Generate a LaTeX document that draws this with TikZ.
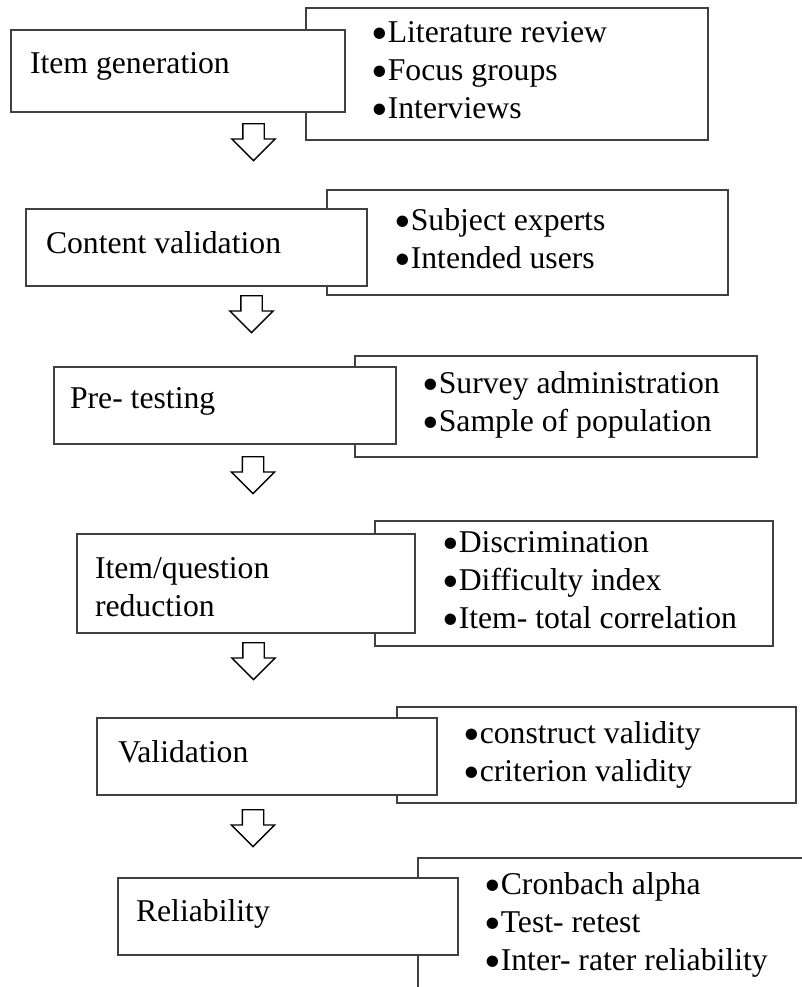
\documentclass[tikz,border=0pt]{standalone}
\usepackage{fontspec}
\setmainfont{Liberation Serif}
\usetikzlibrary{shapes.arrows}

\newcommand\stagefont{\fontsize{31.7bp}{38bp}\selectfont}
\newcommand\bul{\makebox[16.8bp][l]{\raisebox{-7bp}{\scalebox{1.5}{•}}}}
\newcommand\lines[1]{\begin{tabular}[t]{@{}l@{}}#1\end{tabular}}

\tikzset{
  framebox/.style={draw=black!75, line width=1.3bp, fill=white,
    anchor=north west, inner sep=0pt, outer sep=0pt},
  caption/.style={anchor=base west, inner sep=0pt, outer sep=0pt, font=\stagefont},
  downarrow/.style={single arrow, draw=black, line width=1.4bp, fill=white,
    rotate=-90, anchor=tail, inner xsep=0pt, inner ysep=10bp,
    minimum height=37bp,
    single arrow head extend=11bp, single arrow tip angle=90},
}

\begin{document}
\begin{tikzpicture}[x=1bp, y=-1bp]
  \useasboundingbox (0,0) rectangle (802,987);
  \clip (0,0) rectangle (802,987);
  \fill[white] (0,0) rectangle (802,987);

  % Stage 1: item generation
  \node[framebox, minimum width=402bp, minimum height=132bp] (r1) at (306,8) {};
  \node[framebox, minimum width=334bp, minimum height=82bp] (s1) at (11,30) {};
  \node[caption] (t1) at (30,73) {Item generation};
  \node[caption] (b1) at (371,42) {\lines{\bul Literature review\\\bul Focus groups\\\bul Interviews}};

  % Stage 2: content validation
  \node[framebox, minimum width=401bp, minimum height=105bp] (r2) at (327,190) {};
  \node[framebox, minimum width=341bp, minimum height=77bp] (s2) at (26,209) {};
  \node[caption] (t2) at (46,253) {Content validation};
  \node[caption] (b2) at (394,230) {\lines{\bul Subject experts\\\bul Intended users}};

  % Stage 3: pre-testing
  \node[framebox, minimum width=402bp, minimum height=101bp] (r3) at (355,356) {};
  \node[framebox, minimum width=342bp, minimum height=77bp] (s3) at (54,367) {};
  \node[caption] (t3) at (70,408) {Pre- testing};
  \node[caption] (b3) at (422,393) {\lines{\bul Survey administration\\\bul Sample of population}};

  % Stage 4: item reduction
  \node[framebox, minimum width=398bp, minimum height=125bp] (r4) at (375,521) {};
  \node[framebox, minimum width=338bp, minimum height=99bp] (s4) at (77,534) {};
  \node[caption] (t4) at (95,578) {\lines{Item/question\\reduction}};
  \node[caption] (b4) at (442,552) {\lines{\bul Discrimination\\\bul Difficulty index\\\bul Item- total correlation}};

  % Stage 5: validation
  \node[framebox, minimum width=399bp, minimum height=96bp] (r5) at (397,707) {};
  \node[framebox, minimum width=340bp, minimum height=77bp] (s5) at (97,718) {};
  \node[caption] (t5) at (118,762) {Validation};
  \node[caption] (b5) at (463,743) {\lines{\bul construct validity\\\bul criterion validity}};

  % Stage 6: reliability (detail box runs past the page edge)
  \node[framebox, minimum width=420bp, minimum height=160bp] (r6) at (418,858) {};
  \node[framebox, minimum width=340bp, minimum height=77bp] (s6) at (118,878) {};
  \node[caption] (t6) at (136,921) {Reliability};
  \node[caption] (b6) at (484,894) {\lines{\bul Cronbach alpha\\\bul Test- retest\\\bul Inter- rater reliability}};

  % Block arrows between the stages
  \node[downarrow] (a1) at (253.5,123) {};
  \node[downarrow] (a2) at (251.5,295) {};
  \node[downarrow] (a3) at (253,456) {};
  \node[downarrow] (a4) at (253.5,642) {};
  \node[downarrow] (a5) at (253,809) {};
\end{tikzpicture}
\end{document}
